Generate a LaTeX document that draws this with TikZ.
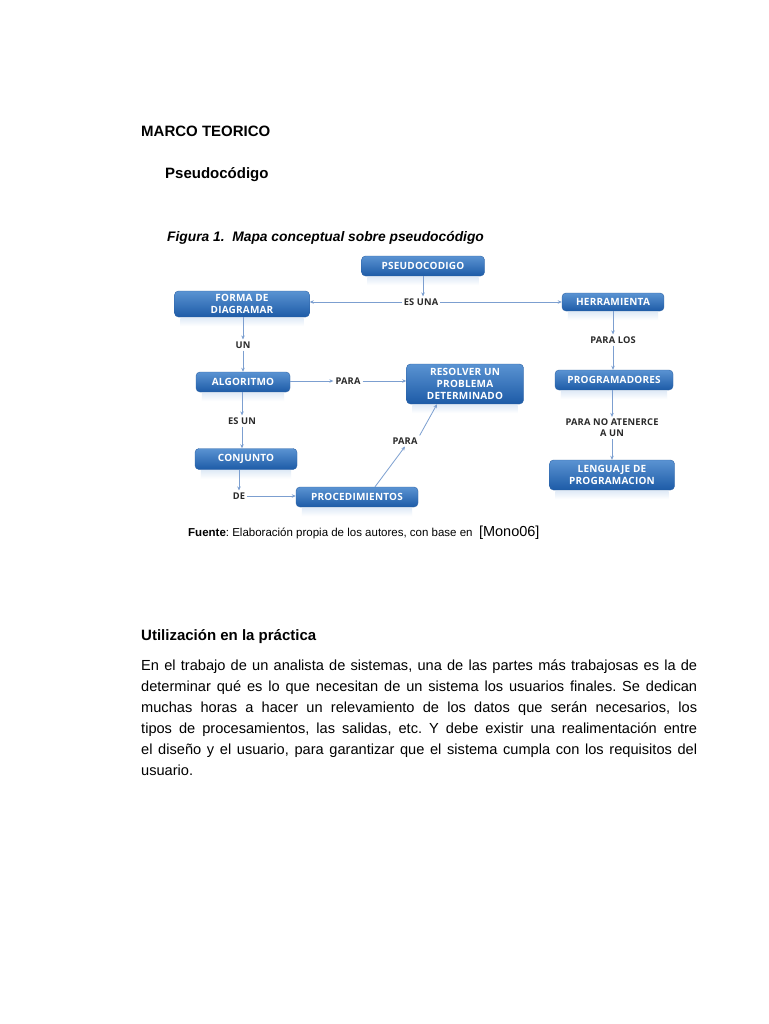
\documentclass[tikz,border=0pt]{standalone}
\usepackage{fontspec}
\setmainfont{Liberation Sans}
\newfontfamily\mapfont[LetterSpace=2]{Open Sans}
\usetikzlibrary{calc,positioning,arrows.meta}
\definecolor{BoxTop}{HTML}{5A93D2}
\definecolor{BoxBottom}{HTML}{1D5BA7}
\definecolor{BoxEdge}{HTML}{2E63A6}
\definecolor{Link}{HTML}{7C9FD0}
\definecolor{LabelInk}{HTML}{2A2A2A}

\begin{document}
\frenchspacing
\begin{tikzpicture}[x=1pt,y=-1pt,
  every node/.style={align=center},
  concept/.style={draw=BoxEdge,line width=.4pt,top color=BoxTop,bottom color=BoxBottom,rounded corners=4pt,text=white,font=\mapfont\bfseries\fontsize{10}{11.6}\selectfont,inner sep=1pt},
  linkword/.style={text=LabelInk,font=\mapfont\bfseries\fontsize{9.3}{11}\selectfont,inner sep=2pt},
  link/.style={-{Stealth[length=4pt,width=3.5pt]},Link,line width=.8pt},
  heading/.style={anchor=base west,inner sep=0pt,font=\bfseries\fontsize{15}{18}\selectfont}]
  \useasboundingbox[fill=white] (0,0) rectangle (768,1024);
  % page text
  \node[heading] (marco) at (141,137) {MARCO TEORICO};
  \node[heading] (pseudo) at (165,179) {Pseudocódigo};
  \node[anchor=base west,inner sep=0pt,font=\bfseries\itshape\fontsize{13.8}{17}\selectfont] (fig) at (167,241) {Figura 1.\ \ Mapa conceptual sobre pseudocódigo};
  % concept boxes
  \node[concept,minimum width=123pt,minimum height=20pt] (pscod) at (423,266) {PSEUDOCODIGO};
  \node[concept,minimum width=135pt,minimum height=26pt] (forma) at (242,304) {FORMA DE\\DIAGRAMAR};
  \node[concept,minimum width=102pt,minimum height=18pt] (herr) at (613,302) {HERRAMIENTA};
  \node[concept,minimum width=94pt,minimum height=20pt] (algo) at (243,382) {ALGORITMO};
  \node[concept,minimum width=117pt,minimum height=40pt] (resol) at (465,384) {RESOLVER UN\\PROBLEMA\\DETERMINADO};
  \node[concept,minimum width=118pt,minimum height=20pt] (prog) at (614,380) {PROGRAMADORES};
  \node[concept,minimum width=102pt,minimum height=21pt] (conj) at (246,459) {CONJUNTO};
  \node[concept,minimum width=125pt,minimum height=30pt] (leng) at (612,475) {LENGUAJE DE\\PROGRAMACION};
  \node[concept,minimum width=122pt,minimum height=20pt] (proc) at (357,497) {PROCEDIMIENTOS};
  % soft reflections under the boxes
  \foreach \n in {pscod,forma,herr,algo,resol,prog,conj,leng,proc}
    \shade[top color=BoxTop!18,bottom color=white] ($(\n.south west)+(6,1)$) rectangle ($(\n.south east)+(-6,9)$);
  % linking words
  \node[linkword] (esuna) at (421,302) {ES UNA};
  \node[linkword] (un) at (243,345) {UN};
  \node[linkword] (paralos) at (613,340) {PARA LOS};
  \node[linkword] (paraA) at (348,381) {PARA};
  \node[linkword] (esun) at (242,421) {ES UN};
  \node[linkword] (atener) at (612,428) {PARA NO ATENERCE\\A UN};
  \node[linkword] (paraB) at (405,441) {PARA};
  \node[linkword] (de) at (239,496) {DE};
  % links
  \draw[link] (pscod) -- (esuna.north -| pscod);
  \draw[link] (esuna.west) -- (esuna.west -| forma.east);
  \draw[link] (esuna.east) -- (esuna.east -| herr.west);
  \draw[link] (forma.south -| un) -- (un);
  \draw[link] (un) -- (algo.north -| un);
  \draw[link] (algo.east |- paraA) -- (paraA);
  \draw[link] (paraA.east) -- (paraA.east -| resol.west);
  \draw[link] (algo.south -| esun) -- (esun);
  \draw[link] (esun) -- (conj.north -| esun);
  \draw[link] (conj.south -| de) -- (de);
  \draw[link] (de) -- (de -| proc.west);
  \draw[link] ($(proc.north)+(18,0)$) -- (paraB.south);
  \draw[link] (paraB.north east) -- ($(resol.south)+(-28,0)$);
  \draw[link] (herr.south -| paralos) -- (paralos);
  \draw[link] (paralos) -- (prog.north -| paralos);
  \draw[link] (prog.south -| atener) -- (atener);
  \draw[link] (atener) -- (leng.north -| atener);
  % source line
  \node[anchor=base west,inner sep=0pt,font=\fontsize{11.5}{14}\selectfont] (fuente) at (188,536) {\textbf{Fuente}: Elaboración propia de los autores, con base en\ \ {\fontsize{14.5}{17}\selectfont[Mono06]}};
  % section text
  \node[heading] (uso) at (141,640) {Utilización en la práctica};
  \node[anchor=north west,align=justify,text width=556pt,inner sep=0pt,font=\fontsize{14.6}{21}\selectfont] (parrafo) at (141,659.5) {En el trabajo de un analista de sistemas, una de las partes más trabajosas es la de\linebreak
determinar qué es lo que necesitan de un sistema los usuarios finales. Se dedican\linebreak
muchas horas a hacer un relevamiento de los datos que serán necesarios, los\linebreak
tipos de procesamientos, las salidas, etc. Y debe existir una realimentación entre\linebreak
el diseño y el usuario, para garantizar que el sistema cumpla con los requisitos del\linebreak
usuario.};
\end{tikzpicture}
\end{document}
